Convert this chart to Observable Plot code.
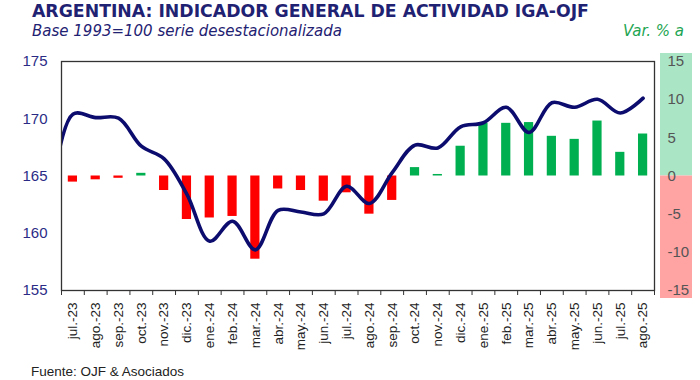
<!DOCTYPE html>
<html>
<head>
<meta charset="utf-8">
<script src="https://cdn.jsdelivr.net/npm/d3@7"></script>
<script src="https://cdn.jsdelivr.net/npm/@observablehq/plot@0.6"></script>
<style>
  html, body { margin: 0; padding: 0; background: #fff; }
  #wrap { position: relative; width: 700px; height: 380px; overflow: hidden; font-family: "Liberation Sans", Arial, sans-serif; }
  #title { position: absolute; left: 32px; top: 2px; font-family: "DejaVu Sans", sans-serif; font-weight: bold; font-size: 17.3px; line-height: 19px; color: #1f2272; white-space: nowrap; }
  #subtitle { position: absolute; left: 32px; top: 23px; font-family: "DejaVu Sans", sans-serif; font-style: italic; font-size: 15px; line-height: 17px; color: #1f2272; white-space: nowrap; }
  #rightlabel { position: absolute; left: 623px; top: 23px; font-family: "DejaVu Sans", sans-serif; font-style: italic; font-size: 15px; line-height: 17px; color: #1ea552; white-space: nowrap; }
  #source { position: absolute; left: 31px; top: 365px; font-size: 13.5px; line-height: 14px; color: #222; white-space: nowrap; }
  #chart { position: absolute; left: 0; top: 0; }
</style>
</head>
<body>
<div id="wrap">
  <div id="chart"></div>
  <div id="title">ARGENTINA: INDICADOR GENERAL DE ACTIVIDAD IGA-OJF</div>
  <div id="subtitle">Base 1993=100 serie desestacionalizada</div>
  <div id="rightlabel">Var. % a</div>
  <div id="source">Fuente: OJF &amp; Asociados</div>
</div>
<script>
// Month labels
const months = ["jul.-23","ago.-23","sep.-23","oct.-23","nov.-23","dic.-23","ene.-24","feb.-24","mar.-24","abr.-24","may.-24","jun.-24","jul.-24","ago.-24","sep.-24","oct.-24","nov.-24","dic.-24","ene.-25","feb.-25","mar.-25","abr.-25","may.-25","jun.-25","jul.-25","ago.-25"];
// IGA-OJF index, base 1993=100, seasonally adjusted (left axis)
const igaIndex = [170.4,170.1,170.05,167.6,166.5,163.4,159.3,161.05,158.55,162.0,161.85,161.7,164.1,162.6,165.3,167.7,167.45,169.3,169.65,171.0,168.8,171.4,171.0,171.7,170.5,171.8];
// jun.-23 value (drawn outside the frame, clipped)
const igaPrevMonth = 162.5;
// Year-on-year % change (right axis)
const varYoY = [-0.8,-0.5,-0.3,0.35,-1.9,-5.7,-5.5,-5.3,-10.9,-1.7,-1.9,-3.3,-2.2,-5.0,-3.2,1.1,0.2,3.9,6.9,6.9,7.0,5.2,4.8,7.2,3.1,5.5];
// Axis ticks
const leftTicks = [155,160,165,170,175];
const rightTicks = [-15,-10,-5,0,5,10,15];

// right axis mapping: % = (index - 165) * 1.5
const base = 165, ratio = 1.5;
const toLeft = p => base + p / ratio;

const lineData = [{i: -1, v: igaPrevMonth}, ...igaIndex.map((v, i) => ({i, v}))];
const barData = varYoY.map((p, i) => ({i, p}));

const plot = Plot.plot({
  width: 700,
  height: 380,
  marginLeft: 61,
  marginRight: 46,
  marginTop: 61,
  marginBottom: 90,
  style: {fontFamily: "'Liberation Sans', Arial, sans-serif", background: "transparent", overflow: "visible"},
  x: {domain: [-0.5, months.length - 0.5], label: null},
  y: {domain: [155, 175], label: null},
  marks: [
    Plot.rect(barData, {
      x1: d => d.i - 0.5, x2: d => d.i + 0.5,
      y1: () => base, y2: d => toLeft(d.p),
      insetLeft: 6.8, insetRight: 6.8,
      fill: d => d.p >= 0 ? "#00b050" : "#ff0000"
    }),
    Plot.line(lineData, {x: "i", y: "v", curve: "catmull-rom", stroke: "#0c0c6e", strokeWidth: 3.6, clip: true}),
    Plot.frame({stroke: "#333", strokeWidth: 1.3}),
    Plot.axisY({ticks: leftTicks, tickSize: 0, tickPadding: 14, fontSize: 15, color: "#2b2b86", label: null}),
    Plot.axisY({anchor: "right", ticks: rightTicks.map(toLeft), tickFormat: v => String(Math.round((v - base) * ratio)), tickSize: 0, tickPadding: 13, fontSize: 15, color: "#555", label: null}),
    Plot.axisX({ticks: d3.range(months.length), tickFormat: i => months[i], tickRotate: -90, tickSize: 0, tickPadding: 12, fontSize: 13.5, color: "#222", label: null}),
    Plot.axisX({ticks: d3.range(-0.5, months.length, 1), tickFormat: () => "", tickSize: 5, stroke: "#333", label: null})
  ]
});

// Colored background band behind the right axis
const yScale = plot.scale("y");
const zeroY = yScale.apply(base);
const svg = d3.select(plot);
svg.insert("rect", ":first-child").attr("x", 660).attr("width", 32).attr("y", zeroY).attr("height", 298 - zeroY).attr("fill", "#ffa3a3");
svg.insert("rect", ":first-child").attr("x", 660).attr("width", 32).attr("y", 53).attr("height", zeroY - 53).attr("fill", "#aae5c6");

document.getElementById("chart").appendChild(plot);
</script>
</body>
</html>
